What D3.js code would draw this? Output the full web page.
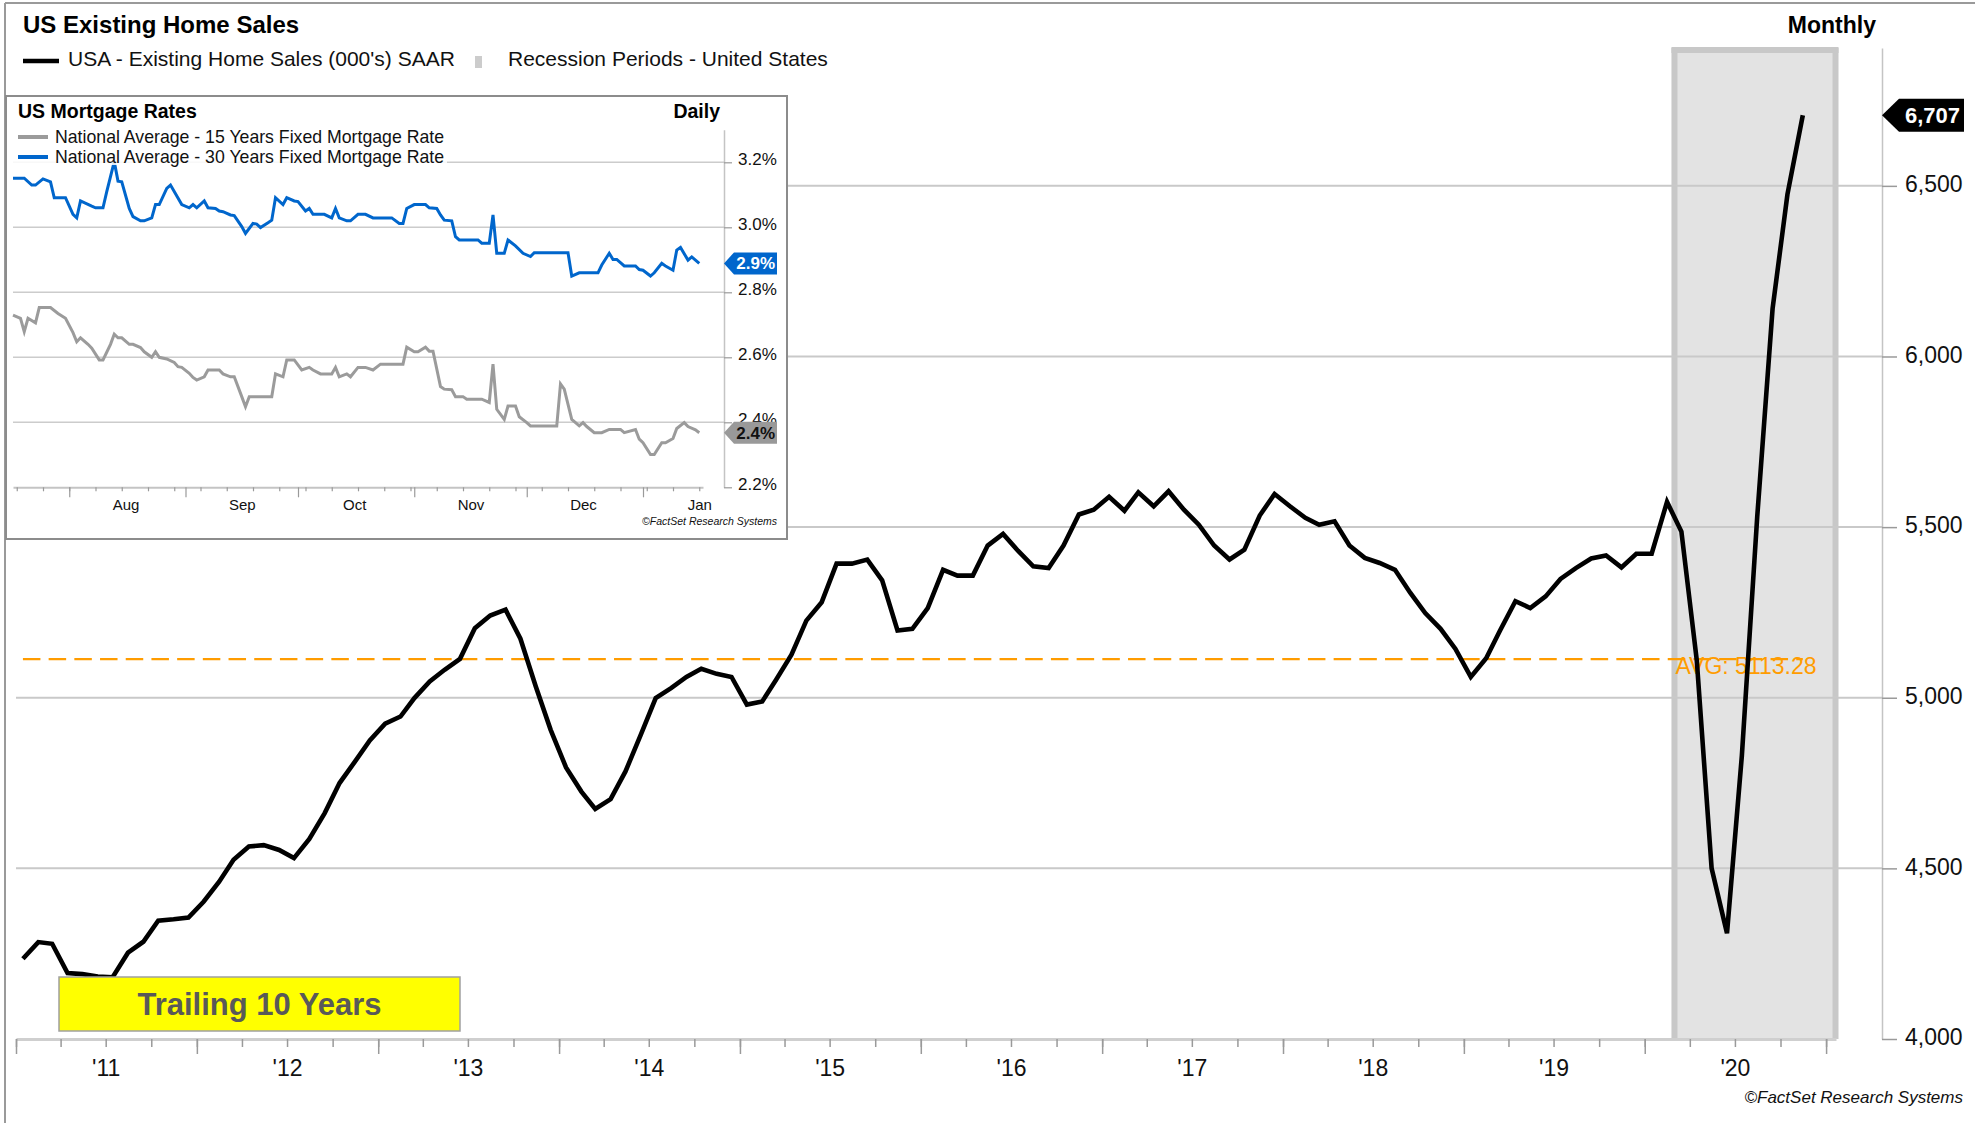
<!DOCTYPE html>
<html><head><meta charset="utf-8">
<script src="https://cdn.jsdelivr.net/npm/d3@7"></script>
<style>
html,body{margin:0;padding:0;background:#fff;}
svg{display:block;}
</style></head><body>
<svg id="chart" width="1975" height="1123"></svg>
<script>
// ================= DATA =================
// US Existing Home Sales (000's) SAAR, monthly, Jan 2011 .. Nov 2020
const salesStartDate = "2011-01-15";
const salesValues = [
  4235,4284,4279,4193,4190,4183,4181,4253,4285,4347,4351,4356,
  4403,4461,4525,4564,4568,4554,4530,4586,4662,4750,4813,4875,
  4924,4945,4999,5048,5082,5114,5204,5241,5258,5173,5033,4906,
  4796,4725,4674,4703,4784,4892,4999,5028,5061,5085,5070,5061,
  4980,4989,5053,5126,5226,5280,5393,5393,5405,5344,5197,5202,
  5263,5375,5358,5358,5446,5480,5431,5385,5380,5446,5537,5551,
  5589,5548,5602,5561,5605,5551,5507,5446,5405,5434,5534,5597,
  5561,5527,5507,5517,5446,5410,5395,5375,5307,5248,5202,5143,
  5061,5116,5197,5283,5263,5297,5348,5380,5408,5417,5382,5422,
  5422,5574,5487,5110,4500,4310,4830,5530,6140,6475,6707
];
const salesAverage = [5113.28];
const salesYTicks = [4000, 4500, 5000, 5500, 6000, 6500];
const yearTickLabels = ["'11","'12","'13","'14","'15","'16","'17","'18","'19","'20"];
const recessionPeriod = ["2020-03-01", "2021-01-20"];
const lastSalesLabel = ["6,707"];

// US Mortgage Rates (daily), day offsets from base date
const rateBaseDate = "2020-08-01";
const rate30Days = [-15,-12,-10,-9,-7,-5,-4,-1,1,2,3,6,7,9,10,12,13,14,16,17,19,20,22,23,24,26,27,30,32,33,34,36,37,39,40,41,43,44,46,47,49,50,51,53,54,55,57,58,60,61,63,64,65,68,70,71,72,74,75,77,79,81,86,88,89,90,92,95,96,98,99,100,102,103,104,109,110,112,113,114,116,117,119,121,123,124,133,134,136,141,142,144,145,146,148,151,152,153,155,156,158,159,161,162,163,165,166,168];
const rate30Values = [3.151,3.151,3.130,3.130,3.149,3.140,3.091,3.091,3.040,3.029,3.081,3.065,3.060,3.060,3.110,3.202,3.142,3.140,3.058,3.033,3.020,3.020,3.029,3.070,3.070,3.120,3.130,3.070,3.060,3.070,3.060,3.081,3.060,3.058,3.050,3.048,3.038,3.036,3.002,2.981,3.012,3.010,2.999,3.014,3.022,3.091,3.070,3.091,3.081,3.079,3.050,3.058,3.040,3.040,3.029,3.058,3.029,3.020,3.020,3.040,3.040,3.029,3.029,3.012,3.012,3.058,3.070,3.070,3.060,3.058,3.038,3.022,3.020,2.971,2.961,2.961,2.951,2.951,3.038,2.920,2.920,2.961,2.943,2.920,2.910,2.922,2.922,2.850,2.860,2.860,2.884,2.920,2.901,2.901,2.881,2.881,2.870,2.868,2.850,2.860,2.889,2.881,2.868,2.930,2.938,2.899,2.909,2.889];
const rate15Days = [-15,-13,-12,-11,-9,-8,-5,-3,-1,1,2,3,5,6,8,9,11,12,13,14,16,17,19,20,22,23,24,26,28,29,30,32,33,34,36,37,40,41,43,44,46,47,48,54,55,57,58,60,62,64,65,67,70,71,72,74,75,77,79,81,83,89,90,92,93,95,96,97,99,100,102,103,105,106,110,112,113,114,116,117,119,120,122,123,130,131,132,134,136,137,138,140,142,144,147,148,151,152,153,155,156,158,159,161,162,164,165,167,168];
const rate15Values = [2.730,2.720,2.679,2.720,2.706,2.753,2.753,2.735,2.720,2.676,2.648,2.660,2.640,2.628,2.592,2.592,2.640,2.671,2.660,2.660,2.640,2.640,2.630,2.617,2.600,2.617,2.600,2.595,2.584,2.571,2.569,2.551,2.538,2.530,2.540,2.561,2.561,2.549,2.540,2.540,2.479,2.448,2.479,2.479,2.549,2.540,2.592,2.592,2.561,2.569,2.561,2.549,2.549,2.569,2.540,2.549,2.540,2.569,2.569,2.561,2.579,2.579,2.631,2.617,2.617,2.631,2.619,2.619,2.510,2.502,2.500,2.479,2.479,2.471,2.471,2.461,2.579,2.440,2.409,2.450,2.450,2.417,2.399,2.389,2.389,2.518,2.502,2.409,2.389,2.399,2.387,2.368,2.368,2.378,2.378,2.368,2.378,2.348,2.337,2.301,2.301,2.337,2.337,2.350,2.381,2.399,2.387,2.377,2.368];
const rateYTicks = [2.2, 2.4, 2.6, 2.8, 3.0, 3.2];
const rateWindow = ["2020-07-17", "2021-01-17"];
const rateLastLabels = ["2.9%", "2.4%"];

// ================= DRAWING =================
const FONT = '"Liberation Sans", Arial, Helvetica, sans-serif';
const W = 1975, H = 1123;
const parse = d3.timeParse("%Y-%m-%d");
const svg = d3.select("#chart").attr("font-family", FONT);

svg.append("rect").attr("width", W).attr("height", H).attr("fill", "#fff");

// outer frame (top and left)
svg.append("line").attr("x1", 5).attr("x2", W).attr("y1", 3).attr("y2", 3)
  .attr("stroke", "#9a9a9a").attr("stroke-width", 2);
svg.append("line").attr("x1", 5).attr("x2", 5).attr("y1", 3).attr("y2", H)
  .attr("stroke", "#9a9a9a").attr("stroke-width", 2);

// ---------- main chart scales ----------
const salesDates = salesValues.map((v, i) => d3.timeMonth.offset(parse(salesStartDate), i));
const sales = salesValues.map((v, i) => ({date: salesDates[i], value: v}));
const x = d3.scaleTime().domain([parse("2011-01-01"), parse("2021-01-21")]).range([16, 1836]);
const y = d3.scaleLinear().domain([4000, 6904]).range([1039, 48]);
const axisRightX = 1882;

// recession band
const rx0 = x(parse(recessionPeriod[0])), rx1 = x(parse(recessionPeriod[1]));
const bandTop = y.range()[1];
svg.append("rect").attr("x", rx0).attr("y", bandTop).attr("width", rx1 - rx0)
  .attr("height", y(4000) - bandTop).attr("fill", "#e3e3e3");
const band = svg.append("g").attr("stroke", "#c8c8c8").attr("stroke-width", 6);
band.append("line").attr("x1", rx0).attr("x2", rx0).attr("y1", bandTop).attr("y2", y(4000));
band.append("line").attr("x1", rx1).attr("x2", rx1).attr("y1", bandTop).attr("y2", y(4000));
band.append("line").attr("x1", rx0 - 3).attr("x2", rx1 + 3).attr("y1", bandTop + 2).attr("y2", bandTop + 2);

// gridlines
svg.append("g").selectAll("line").data(salesYTicks.filter(t => t > 4000)).join("line")
  .attr("x1", 16).attr("x2", axisRightX).attr("y1", d => y(d)).attr("y2", d => y(d))
  .attr("stroke", "#c9c9c9").attr("stroke-width", 2);

// average line
const avgY = y(salesAverage[0]);
svg.append("line").attr("x1", x(salesDates[0])).attr("x2", x(salesDates[salesDates.length - 1]))
  .attr("y1", avgY).attr("y2", avgY)
  .attr("stroke", "#ff9c00").attr("stroke-width", 2.2).attr("stroke-dasharray", "17.5,8.2");
svg.append("text").attr("x", x(parse(recessionPeriod[0])) + 1).attr("y", avgY + 15)
  .attr("font-size", 23).attr("fill", "#ff9c00")
  .text("AVG: " + d3.format(".2f")(salesAverage[0]));

// main line
const line = d3.line().x(d => x(d.date)).y(d => y(d.value));
svg.append("path").datum(sales).attr("d", line)
  .attr("fill", "none").attr("stroke", "#000").attr("stroke-width", 4.6)
  .attr("stroke-linejoin", "miter").attr("stroke-miterlimit", 4);

// x axis
const [xd0, xd1] = x.domain();
const quarterTicks = d3.timeMonth.every(3).range(xd0, xd1);
const yearTicks = d3.timeYear.range(xd0, xd1);
const labelDates = yearTickLabels.map(l => new Date(2000 + (+l.slice(1)), 6, 1));

const gx = svg.append("g").attr("transform", `translate(0,${y(4000)})`);
gx.append("g").call(d3.axisBottom(x).tickValues(quarterTicks).tickSize(8).tickSizeOuter(0).tickFormat(""))
  .call(g => g.select(".domain").attr("stroke", "#cfcfcf").attr("stroke-width", 3))
  .call(g => g.selectAll(".tick line").attr("stroke", "#9a9a9a").attr("stroke-width", 1.5));
gx.append("g").call(d3.axisBottom(x).tickValues(yearTicks).tickSize(15).tickSizeOuter(0).tickFormat(""))
  .call(g => g.select(".domain").remove())
  .call(g => g.selectAll(".tick line").attr("stroke", "#9a9a9a").attr("stroke-width", 1.5));
gx.append("g").call(d3.axisBottom(x).tickValues(labelDates).tickSize(0).tickPadding(21)
    .tickFormat((d, i) => yearTickLabels[i]))
  .call(g => g.select(".domain").remove())
  .call(g => g.selectAll("text").attr("font-size", 23).attr("font-family", FONT).attr("fill", "#111"));

// right y axis
svg.append("g").attr("transform", `translate(${axisRightX},0)`)
  .call(d3.axisRight(y).tickValues(salesYTicks).tickSize(15).tickPadding(8).tickSizeOuter(0)
    .tickFormat(d3.format(",")))
  .call(g => g.select(".domain").attr("stroke", "#c4c4c4").attr("stroke-width", 1.5))
  .call(g => g.selectAll(".tick line").attr("stroke", "#9a9a9a").attr("stroke-width", 1.5))
  .call(g => g.selectAll("text").attr("font-size", 23).attr("font-family", FONT).attr("fill", "#111").attr("dy", "0.25em"));

// last value tag
const lastY = y(salesValues[salesValues.length - 1]);
svg.append("path")
  .attr("d", `M${axisRightX},${lastY} L${axisRightX + 17},${lastY - 16.5} L1964,${lastY - 16.5} L1964,${lastY + 16.5} L${axisRightX + 17},${lastY + 16.5} Z`)
  .attr("fill", "#000");
svg.append("text").attr("x", 1960).attr("y", lastY + 8).attr("text-anchor", "end")
  .attr("font-size", 22).attr("font-weight", "bold").attr("fill", "#fff").text(lastSalesLabel[0]);

// titles & legend
svg.append("text").attr("x", 23).attr("y", 33).attr("font-size", 24).attr("font-weight", "bold")
  .attr("fill", "#000").text("US Existing Home Sales");
svg.append("text").attr("x", 1876).attr("y", 33).attr("text-anchor", "end").attr("font-size", 23)
  .attr("font-weight", "bold").attr("fill", "#000").text("Monthly");
svg.append("line").attr("x1", 23).attr("x2", 59).attr("y1", 61).attr("y2", 61)
  .attr("stroke", "#000").attr("stroke-width", 4.5);
svg.append("text").attr("x", 68).attr("y", 66).attr("font-size", 21).attr("fill", "#111")
  .text("USA - Existing Home Sales (000's) SAAR");
svg.append("rect").attr("x", 475).attr("y", 56).attr("width", 7).attr("height", 12).attr("fill", "#cccccc");
svg.append("text").attr("x", 508).attr("y", 66).attr("font-size", 21).attr("fill", "#111")
  .text("Recession Periods - United States");

// Trailing 10 Years box
svg.append("rect").attr("x", 59).attr("y", 977).attr("width", 401).attr("height", 54)
  .attr("fill", "#ffff00").attr("stroke", "#a0a0a0").attr("stroke-width", 1.5);
svg.append("text").attr("x", 259.5).attr("y", 1015).attr("text-anchor", "middle")
  .attr("font-size", 31).attr("font-weight", "bold").attr("fill", "#595959").text("Trailing 10 Years");

// copyright
svg.append("text").attr("x", 1963).attr("y", 1103).attr("text-anchor", "end")
  .attr("font-size", 17).attr("font-style", "italic").attr("fill", "#111")
  .text("\u00A9FactSet Research Systems");

// ================= INSET =================
const inset = svg.append("g");
inset.append("rect").attr("x", 6).attr("y", 96).attr("width", 781).attr("height", 443)
  .attr("fill", "#fff").attr("stroke", "#8c8c8c").attr("stroke-width", 2);

const base = parse(rateBaseDate);
const dayToDate = d => d3.timeDay.offset(base, d);
const r30 = rate30Days.map((d, i) => ({date: dayToDate(d), value: rate30Values[i]}));
const r15 = rate15Days.map((d, i) => ({date: dayToDate(d), value: rate15Values[i]}));

const xr = d3.scaleTime().domain(rateWindow.map(parse)).range([13, 703]);
const yr = d3.scaleLinear().domain([2.2, 3.3]).range([487.3, 129.8]);
const insetAxisX = 724;

inset.append("g").selectAll("line").data(rateYTicks.filter(t => t > 2.2)).join("line")
  .attr("x1", 13).attr("x2", insetAxisX).attr("y1", d => yr(d)).attr("y2", d => yr(d))
  .attr("stroke", "#cccccc").attr("stroke-width", 1.5);

const rline = d3.line().x(d => xr(d.date)).y(d => yr(d.value));
inset.append("path").datum(r15).attr("d", rline).attr("fill", "none")
  .attr("stroke", "#9b9b9b").attr("stroke-width", 3).attr("stroke-linejoin", "miter");
inset.append("path").datum(r30).attr("d", rline).attr("fill", "none")
  .attr("stroke", "#0066cc").attr("stroke-width", 3).attr("stroke-linejoin", "miter");

// inset x axis
const [rd0, rd1] = xr.domain();
const gxr = inset.append("g").attr("transform", `translate(0,${yr(2.2)})`);
gxr.append("g").call(d3.axisBottom(xr).tickValues(d3.timeSaturday.range(rd0, rd1)).tickSize(4).tickSizeOuter(0).tickFormat(""))
  .call(g => g.select(".domain").attr("stroke", "#c4c4c4").attr("stroke-width", 2))
  .call(g => g.selectAll(".tick line").attr("stroke", "#9a9a9a").attr("stroke-width", 1.2));
gxr.append("g").call(d3.axisBottom(xr).tickValues(d3.timeMonth.range(rd0, rd1)).tickSize(10).tickSizeOuter(0).tickFormat(""))
  .call(g => g.select(".domain").remove())
  .call(g => g.selectAll(".tick line").attr("stroke", "#9a9a9a").attr("stroke-width", 1.2));
const monthMid = d3.timeMonth.range(rd0, rd1).map(m => d3.timeDay.offset(m, 15));
gxr.append("g").call(d3.axisBottom(xr).tickValues(monthMid).tickSize(0).tickPadding(12)
    .tickFormat(d3.timeFormat("%b")))
  .call(g => g.select(".domain").remove())
  .call(g => g.selectAll("text").attr("font-size", 15).attr("font-family", FONT).attr("fill", "#111"));

// inset y axis
inset.append("g").attr("transform", `translate(${insetAxisX},0)`)
  .call(d3.axisRight(yr).tickValues(rateYTicks).tickSize(8).tickPadding(6).tickSizeOuter(0)
    .tickFormat(d => d.toFixed(1) + "%"))
  .call(g => g.select(".domain").attr("stroke", "#c4c4c4").attr("stroke-width", 1.5))
  .call(g => g.selectAll(".tick line").attr("stroke", "#9a9a9a").attr("stroke-width", 1.2))
  .call(g => g.selectAll("text").attr("font-size", 17).attr("font-family", FONT).attr("fill", "#111").attr("dy", "0.12em"));

// inset last value tags
function tag(yv, fill, txtFill, label) {
  inset.append("path")
    .attr("d", `M${insetAxisX},${yv} L${insetAxisX + 10},${yv - 11} L777,${yv - 11} L777,${yv + 11} L${insetAxisX + 10},${yv + 11} Z`)
    .attr("fill", fill);
  inset.append("text").attr("x", 775).attr("y", yv + 6).attr("text-anchor", "end")
    .attr("font-size", 17).attr("font-weight", "bold").attr("fill", txtFill).text(label);
}
tag(yr(rate30Values[rate30Values.length - 1]), "#0066cc", "#fff", rateLastLabels[0]);
tag(yr(rate15Values[rate15Values.length - 1]), "#999999", "#111", rateLastLabels[1]);

// inset titles and legend
inset.append("text").attr("x", 18).attr("y", 118).attr("font-size", 19.5).attr("font-weight", "bold")
  .attr("fill", "#000").text("US Mortgage Rates");
inset.append("text").attr("x", 720).attr("y", 118).attr("text-anchor", "end").attr("font-size", 19.5)
  .attr("font-weight", "bold").attr("fill", "#000").text("Daily");
inset.append("rect").attr("x", 12).attr("y", 126).attr("width", 435).attr("height", 39)
  .attr("fill", "#fff").attr("opacity", 0.85);
const legendItems = [
  {label: "National Average - 15 Years Fixed Mortgage Rate", color: "#9b9b9b", y: 137},
  {label: "National Average - 30 Years Fixed Mortgage Rate", color: "#0066cc", y: 157}
];
legendItems.forEach(it => {
  inset.append("line").attr("x1", 18).attr("x2", 48).attr("y1", it.y).attr("y2", it.y)
    .attr("stroke", it.color).attr("stroke-width", 4);
  inset.append("text").attr("x", 55).attr("y", it.y + 6).attr("font-size", 17.7).attr("fill", "#111").text(it.label);
});
inset.append("text").attr("x", 777).attr("y", 525).attr("text-anchor", "end")
  .attr("font-size", 10.5).attr("font-style", "italic").attr("fill", "#111")
  .text("\u00A9FactSet Research Systems");
</script>
</body></html>
